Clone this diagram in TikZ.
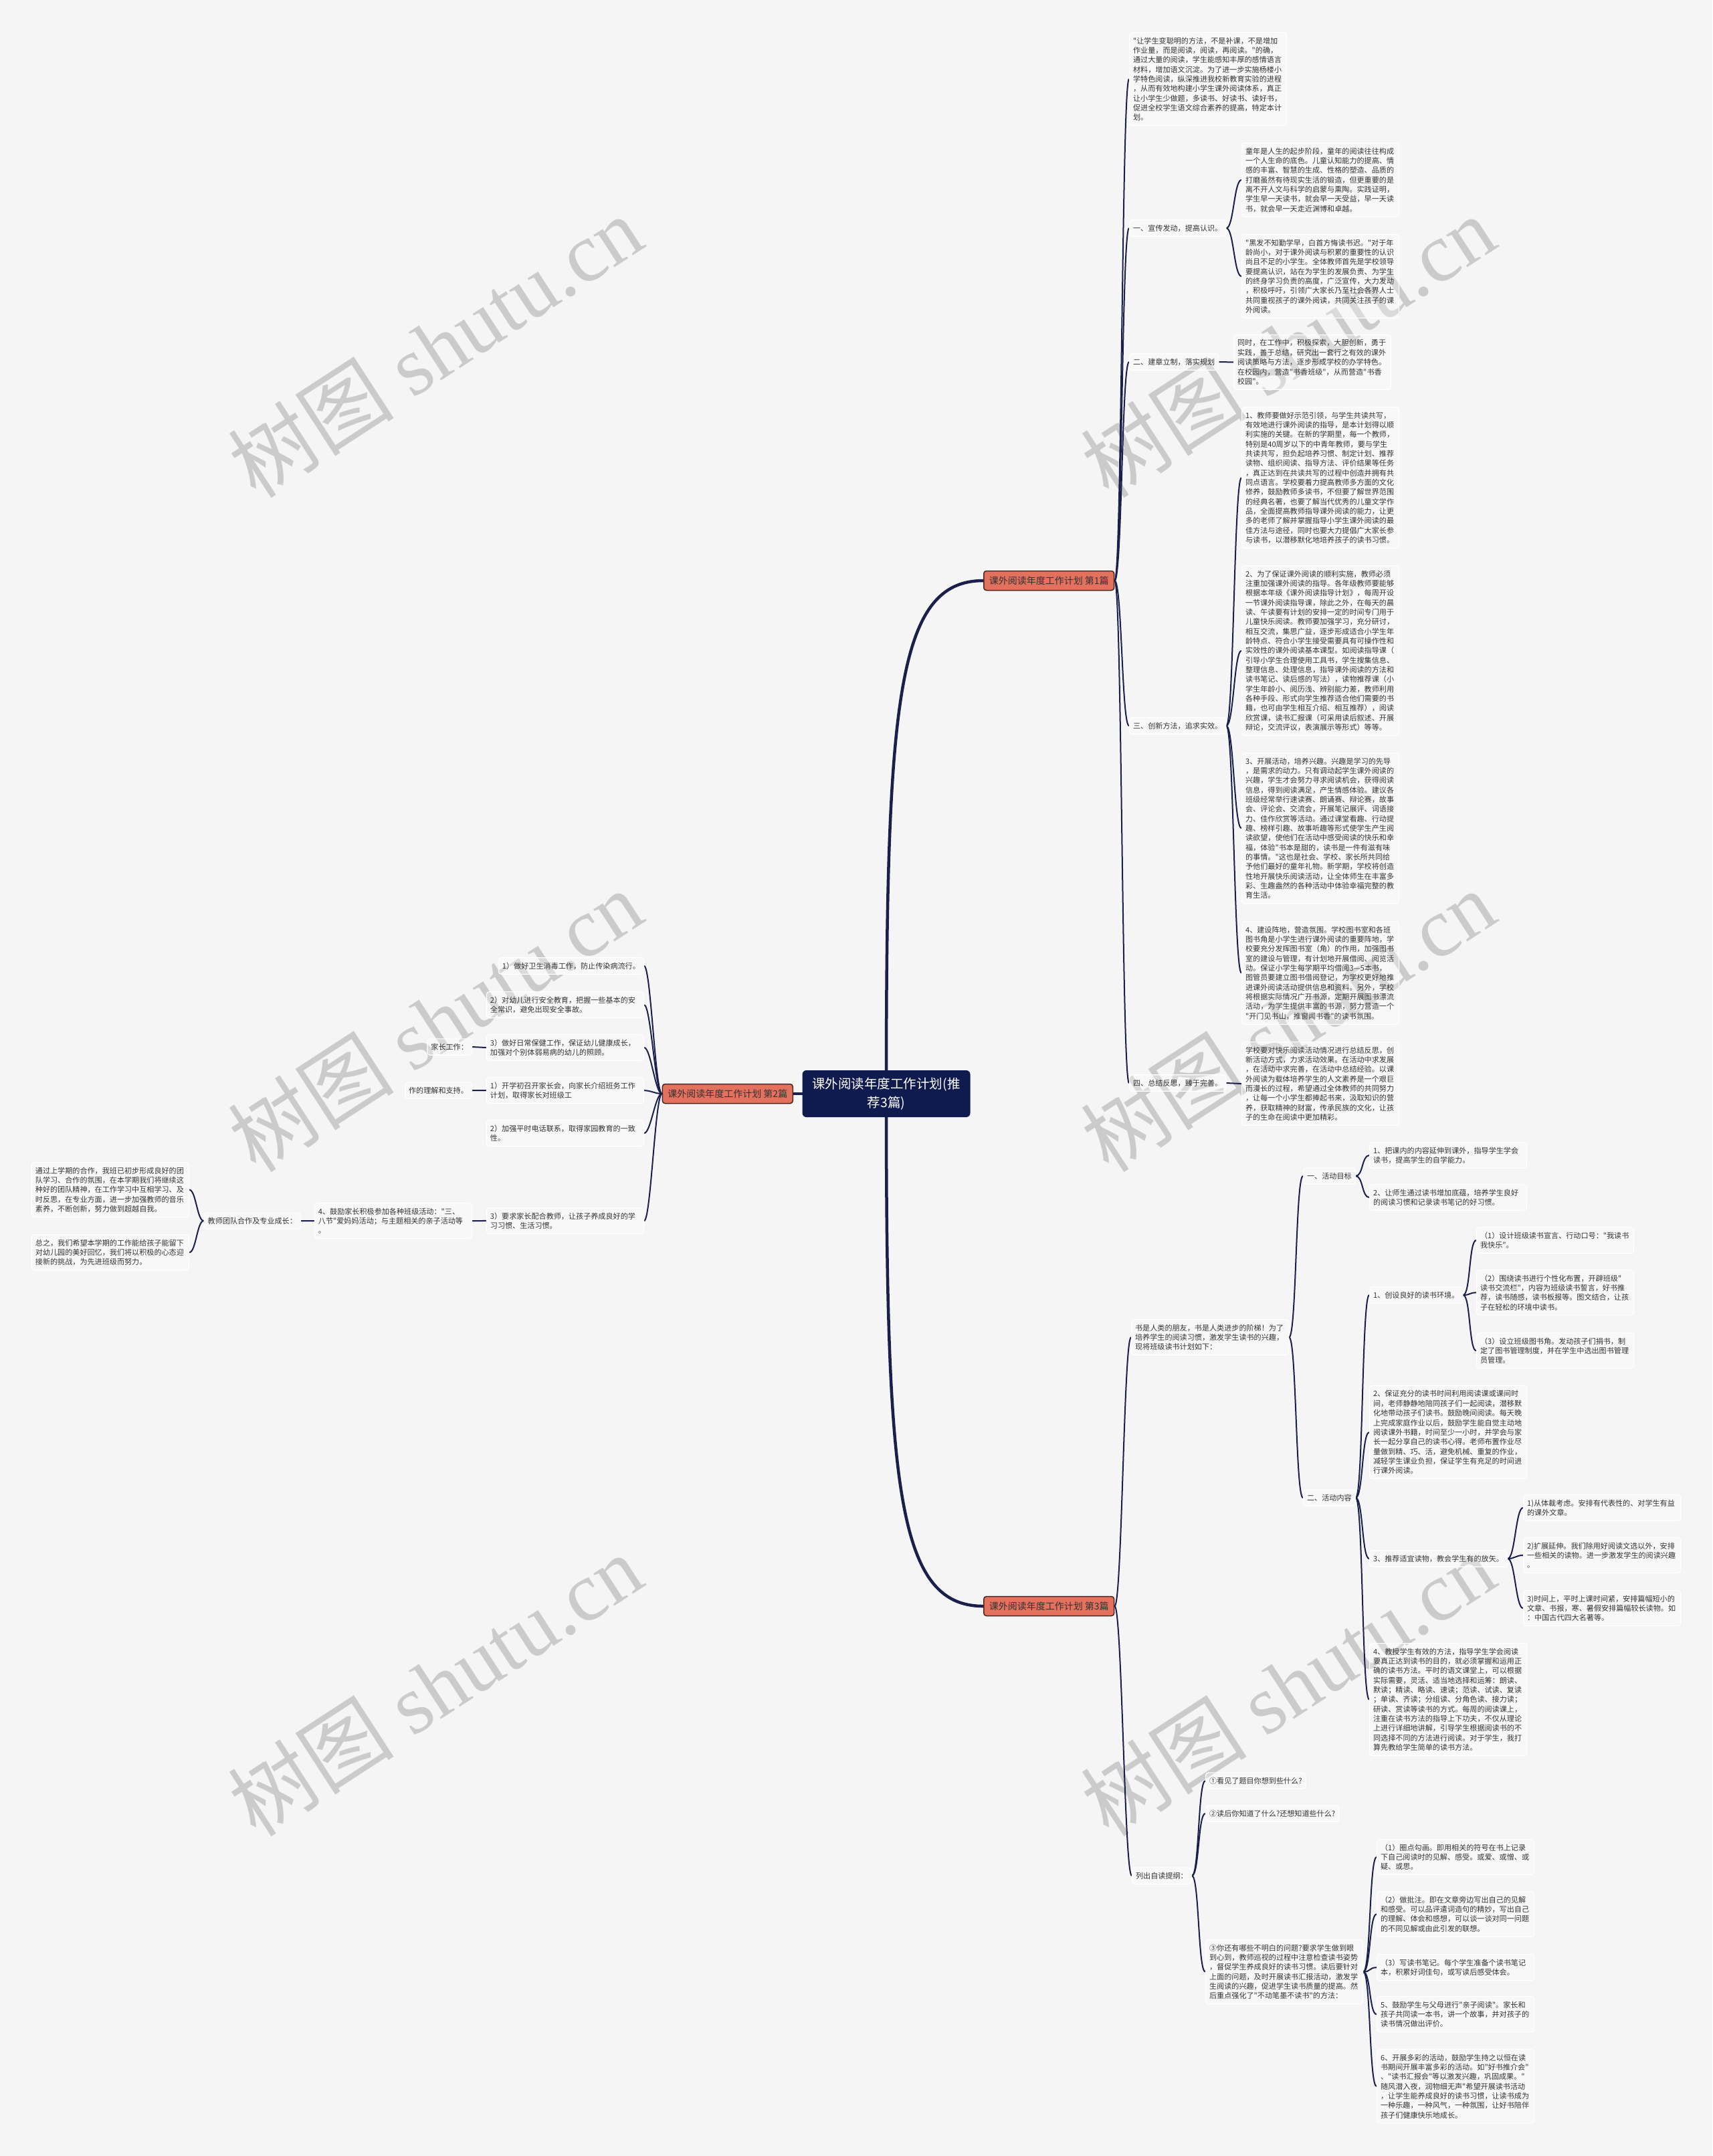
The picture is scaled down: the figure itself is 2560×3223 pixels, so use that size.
\documentclass[tikz,border=0pt]{standalone}
\usepackage{fontspec}
\setmainfont{Noto Sans CJK SC}
\newfontfamily\cjk{Noto Sans CJK SC}
\newfontfamily\wmserif{Liberation Serif}
\usetikzlibrary{calc}
\pgfdeclarelayer{bg}
\pgfsetlayers{bg,main}
\definecolor{bgc}{HTML}{F5F5F5}
\definecolor{txt}{HTML}{333333}
\definecolor{lnc}{HTML}{1B1F4B}
\definecolor{rootc}{HTML}{0F1A4E}
\definecolor{brc}{HTML}{E4705E}
\definecolor{brd}{HTML}{4A2520}
\definecolor{wmc}{HTML}{CBCBCB}
\tikzset{
 box/.style={draw=white, line width=1.2pt, fill=white, fill opacity=0.3, text opacity=1, rounded corners=4pt, text=txt, font=\cjk\fontsize{11.1}{14.35}\selectfont, inner xsep=5.5pt, inner ysep=7pt},
 para/.style={box, text width=224pt, align=left, anchor=north west},
 parar/.style={box, text width=224pt, align=left, anchor=north east},
 lab/.style={box, anchor=west},
 labr/.style={box, anchor=east},
 conn/.style={draw=lnc, line width=2pt},
 trunk/.style={draw=lnc, line width=4.5pt},
 branch/.style={draw=brd, line width=1.5pt, fill=brc, rounded corners=4pt, text=txt, font=\cjk\fontsize{14}{16}\selectfont, inner xsep=8pt, inner ysep=8pt},
 rootn/.style={fill=rootc, rounded corners=6pt, text=white, font=\cjk\fontsize{19.5}{28}\selectfont, align=center, minimum width=251pt, minimum height=70pt},
 wm/.style={text=wmc, rotate=33, font=\cjk\fontsize{125}{125}\selectfont},
}
\newcommand\conR[2]{\draw[conn] (#1.east) .. controls +(11pt,0) and +(-11pt,0) .. (#2.west);}
\newcommand\conL[2]{\draw[conn] (#1.west) .. controls +(-10pt,0) and +(10pt,0) .. (#2.east);}
\begin{document}
\begin{tikzpicture}[x=1pt,y=-1pt]
\useasboundingbox (0,0) rectangle (2560,3223);

% ---------- root and branches ----------
\node[rootn] (root) at (1325,1635) {课外阅读年度工作计划(推\\荐3篇)};
\node[branch, anchor=west] (br1) at (1470,868) {课外阅读年度工作计划 第1篇};
\node[branch, anchor=east] (br2) at (1186,1635) {课外阅读年度工作计划 第2篇};
\node[branch, anchor=west] (br3) at (1470,2401) {课外阅读年度工作计划 第3篇};

% ---------- branch 1 ----------
\node[para] (intro) at (1688,48) {"让学生变聪明的方法，不是补课，不是增加\\作业量，而是阅读，阅读，再阅读。"的确，\\通过大量的阅读，学生能感知丰厚的感情语言\\材料，增加语文沉淀。为了进一步实施杨楼小\\学特色阅读，纵深推进我校新教育实验的进程\\，从而有效地构建小学生课外阅读体系，真正\\让小学生少做题，多读书、好读书、读好书，\\促进全校学生语文综合素养的提高，特定本计\\划。};
\node[lab] (s1a) at (1688,341) {一、宣传发动，提高认识。};
\node[para] (tongnian) at (1856,213) {童年是人生的起步阶段，童年的阅读往往构成\\一个人生命的底色。儿童认知能力的提高、情\\感的丰富、智慧的生成、性格的塑造、品质的\\打磨虽然有待现实生活的锻造，但更重要的是\\离不开人文与科学的启蒙与熏陶。实践证明，\\学生早一天读书，就会早一天受益，早一天读\\书，就会早一天走近渊博和卓越。};
\node[para] (heifa) at (1856,350) {"黑发不知勤学早，白首方悔读书迟。"对于年\\龄尚小，对于课外阅读与积累的重要性的认识\\尚且不足的小学生。全体教师首先是学校领导\\要提高认识，站在为学生的发展负责、为学生\\的终身学习负责的高度，广泛宣传，大力发动\\，积极呼吁，引领广大家长乃至社会各界人士\\共同重视孩子的课外阅读，共同关注孩子的课\\外阅读。};
\node[lab] (s1b) at (1688,541) {二、建章立制，落实规划};
\node[para] (tongshi) at (1844,500) {同时，在工作中，积极探索，大胆创新，勇于\\实践，善于总结，研究出一套行之有效的课外\\阅读策略与方法，逐步形成学校的办学特色。\\在校园内，营造"书香班级"，从而营造"书香\\校园"。};
\node[lab] (s1c) at (1688,1085) {三、创新方法，追求实效。};
\node[para] (jiaoshi) at (1856,608) {1、教师要做好示范引领，与学生共读共写，\\有效地进行课外阅读的指导，是本计划得以顺\\利实施的关键。在新的学期里，每一个教师，\\特别是40周岁以下的中青年教师，要与学生\\共读共写，担负起培养习惯、制定计划、推荐\\读物、组织阅读、指导方法、评价结果等任务\\，真正达到在共读共写的过程中创造并拥有共\\同点语言。学校要着力提高教师多方面的文化\\修养，鼓励教师多读书，不但要了解世界范围\\的经典名著，也要了解当代优秀的儿童文学作\\品，全面提高教师指导课外阅读的能力，让更\\多的老师了解并掌握指导小学生课外阅读的最\\佳方法与途径，同时也要大力提倡广大家长参\\与读书，以潜移默化地培养孩子的读书习惯。};
\node[para] (weile) at (1856,845) {2、为了保证课外阅读的顺利实施，教师必须\\注重加强课外阅读的指导。各年级教师要能够\\根据本年级《课外阅读指导计划》，每周开设\\一节课外阅读指导课，除此之外，在每天的晨\\读、午读要有计划的安排一定的时间专门用于\\儿童快乐阅读。教师要加强学习，充分研讨，\\相互交流，集思广益，逐步形成适合小学生年\\龄特点、符合小学生接受需要具有可操作性和\\实效性的课外阅读基本课型。如阅读指导课（\\引导小学生合理使用工具书，学生搜集信息、\\整理信息、处理信息，指导课外阅读的方法和\\读书笔记、读后感的写法），读物推荐课（小\\学生年龄小、阅历浅、辨别能力差，教师利用\\各种手段、形式向学生推荐适合他们需要的书\\籍，也可由学生相互介绍、相互推荐），阅读\\欣赏课，读书汇报课（可采用读后叙述、开展\\辩论，交流评议，表演展示等形式）等等。};
\node[para] (kaizhan) at (1856,1125) {3、开展活动，培养兴趣。兴趣是学习的先导\\，是需求的动力。只有调动起学生课外阅读的\\兴趣，学生才会努力寻求阅读机会，获得阅读\\信息，得到阅读满足，产生情感体验。建议各\\班级经常举行速读赛、朗诵赛、辩论赛，故事\\会、评论会、交流会，开展笔记展评、词语接\\力、佳作欣赏等活动。通过课堂看趣、行动提\\趣、榜样引趣、故事听趣等形式使学生产生阅\\读欲望，使他们在活动中感受阅读的快乐和幸\\福，体验"书本是甜的，读书是一件有滋有味\\的事情。"这也是社会、学校、家长所共同给\\予他们最好的童年礼物。新学期，学校将创造\\性地开展快乐阅读活动，让全体师生在丰富多\\彩、生趣盎然的各种活动中体验幸福完整的教\\育生活。};
\node[para] (jianshe) at (1856,1377) {4、建设阵地，营造氛围。学校图书室和各班\\图书角是小学生进行课外阅读的重要阵地，学\\校要充分发挥图书室（角）的作用，加强图书\\室的建设与管理，有计划地开展借阅、阅览活\\动。保证小学生每学期平均借阅3—5本书，\\图管员要建立图书借阅登记，为学校更好地推\\进课外阅读活动提供信息和资料。另外，学校\\将根据实际情况广开书源，定期开展图书漂流\\活动，为学生提供丰富的书源，努力营造一个\\"开门见书山，推窗闻书香"的读书氛围。};
\node[lab] (s1d) at (1688,1619) {四、总结反思，臻于完善。};
\node[para] (xuexiao) at (1856,1557) {学校要对快乐阅读活动情况进行总结反思，创\\新活动方式，力求活动效果。在活动中求发展\\，在活动中求完善，在活动中总结经验。以课\\外阅读为载体培养学生的人文素养是一个艰巨\\而漫长的过程，希望通过全体教师的共同努力\\，让每一个小学生都捧起书来，汲取知识的营\\养，获取精神的财富，传承民族的文化，让孩\\子的生命在阅读中更加精彩。};

% ---------- branch 2 ----------
\node[labr] (L1) at (963,1444) {1）做好卫生消毒工作，防止传染病流行。};
\node[parar] (L2) at (963,1482) {2）对幼儿进行安全教育，把握一些基本的安\\全常识，避免出现安全事故。};
\node[parar] (L3) at (963,1546) {3）做好日常保健工作，保证幼儿健康成长，\\加强对个别体弱易病的幼儿的照顾。};
\node[labr] (jiazhang) at (706,1565) {家长工作：};
\node[parar] (L4) at (963,1610) {1）开学初召开家长会，向家长介绍班务工作\\计划，取得家长对班级工};
\node[labr] (lijie) at (706,1630) {作的理解和支持。};
\node[parar] (L5) at (963,1674) {2）加强平时电话联系，取得家园教育的一致\\性。};
\node[parar] (L6) at (963,1805) {3）要求家长配合教师，让孩子养成良好的学\\习习惯、生活习惯。};
\node[parar] (guli) at (706,1798) {4、鼓励家长积极参加各种班级活动："三、\\八节"爱妈妈活动；与主题相关的亲子活动等\\。};
\node[labr] (tuandui) at (450,1825) {教师团队合作及专业成长：};
\node[parar] (tongguo) at (283,1737) {通过上学期的合作，我班已初步形成良好的团\\队学习、合作的氛围，在本学期我们将继续这\\种好的团队精神，在工作学习中互相学习、及\\时反思，在专业方面，进一步加强教师的音乐\\素养，不断创新，努力做到超越自我。};
\node[parar] (zongzhi) at (283,1845) {总之，我们希望本学期的工作能给孩子能留下\\对幼儿园的美好回忆，我们将以积极的心态迎\\接新的挑战，为先进班级而努力。};

% ---------- branch 3 ----------
\node[para] (shushi) at (1691,1972) {书是人类的朋友，书是人类进步的阶梯！为了\\培养学生的阅读习惯，激发学生读书的兴趣，\\现将班级读书计划如下：};
\node[lab] (mubiao) at (1948,1758) {一、活动目标};
\node[para] (mb1) at (2047,1707) {1、把课内的内容延伸到课外，指导学生学会\\读书，提高学生的自学能力。};
\node[para] (mb2) at (2047,1770) {2、让师生通过读书增加底蕴，培养学生良好\\的阅读习惯和记录读书笔记的好习惯。};
\node[lab] (neirong) at (1948,2239) {二、活动内容};
\node[lab] (nr1) at (2047,1936) {1、创设良好的读书环境。};
\node[para] (h1) at (2207,1834) {（1）设计班级读书宣言、行动口号："我读书\\我快乐"。};
\node[para] (h2) at (2207,1898) {（2）围绕读书进行个性化布置，开辟班级"\\读书交流栏"，内容为班级读书誓言，好书推\\荐，读书随感，读书板报等。图文结合，让孩\\子在轻松的环境中读书。};
\node[para] (h3) at (2207,1992) {（3）设立班级图书角。发动孩子们捐书，制\\定了图书管理制度，并在学生中选出图书管理\\员管理。};
\node[para] (nr2) at (2047,2071) {2、保证充分的读书时间利用阅读课或课间时\\间，老师静静地陪同孩子们一起阅读，潜移默\\化地带动孩子们读书。鼓励晚间阅读。每天晚\\上完成家庭作业以后，鼓励学生能自觉主动地\\阅读课外书籍，时间至少一小时，并学会与家\\长一起分享自己的读书心得。老师布置作业尽\\量做到精、巧、活，避免机械、重复的作业，\\减轻学生课业负担，保证学生有充足的时间进\\行课外阅读。};
\node[lab] (nr3) at (2047,2330) {3、推荐适宜读物，教会学生有的放矢。};
\node[para] (t1) at (2277,2234) {1)从体裁考虑。安排有代表性的、对学生有益\\的课外文章。};
\node[para] (t2) at (2277,2298) {2)扩展延伸。我们除用好阅读文选以外，安排\\一些相关的读物。进一步激发学生的阅读兴趣\\。};
\node[para] (t3) at (2277,2377) {3)时间上，平时上课时间紧，安排篇幅短小的\\文章、书报，寒、暑假安排篇幅较长读物。如\\：中国古代四大名著等。};
\node[para] (nr4) at (2047,2456) {4、教授学生有效的方法，指导学生学会阅读\\要真正达到读书的目的，就必须掌握和运用正\\确的读书方法。平时的语文课堂上，可以根据\\实际需要，灵活、适当地选择和运筹：朗读、\\默读；精读、略读、速读；范读、试读、复读\\；单读、齐读；分组读、分角色读、接力读；\\研读、赏读等读书的方式。每周的阅读课上，\\注重在读书方法的指导上下功夫，不仅从理论\\上进行详细地讲解，引导学生根据阅读书的不\\同选择不同的方法进行阅读。对于学生，我打\\算先教给学生简单的读书方法。};
\node[lab] (liechu) at (1692,2804) {列出自读提纲：};
\node[lab] (q1) at (1802,2662) {①看见了题目你想到些什么?};
\node[lab] (q2) at (1802,2711) {②读后你知道了什么?还想知道些什么?};
\node[para] (q3) at (1802,2899) {③你还有哪些不明白的问题?要求学生做到眼\\到心到，教师巡视的过程中注意检查读书姿势\\，督促学生养成良好的读书习惯。读后要针对\\上面的问题，及时开展读书汇报活动，激发学\\生阅读的兴趣，促进学生读书质量的提高。然\\后重点强化了"不动笔墨不读书"的方法：};
\node[para] (c1) at (2058,2749) {（1）圈点勾画。即用相关的符号在书上记录\\下自己阅读时的见解、感受。或爱、或憎、或\\疑、或思。};
\node[para] (c2) at (2058,2827) {（2）做批注。即在文章旁边写出自己的见解\\和感受。可以品评遣词造句的精妙，写出自己\\的理解、体会和感想，可以谈一谈对同一问题\\的不同见解或由此引发的联想。};
\node[para] (c3) at (2058,2921) {（3）写读书笔记。每个学生准备个读书笔记\\本，积累好词佳句，或写读后感受体会。};
\node[para] (c5) at (2058,2984) {5、鼓励学生与父母进行"亲子阅读"。家长和\\孩子共同读一本书，讲一个故事，并对孩子的\\读书情况做出评价。};
\node[para] (c6) at (2058,3063) {6、开展多彩的活动，鼓励学生持之以恒在读\\书期间开展丰富多彩的活动。如"好书推介会"\\、"读书汇报会"等以激发兴趣，巩固成果。"\\随风潜入夜，润物细无声"希望开展读书活动\\，让学生能养成良好的读书习惯，让读书成为\\一种乐趣，一种风气，一种氛围，让好书陪伴\\孩子们健康快乐地成长。};

\begin{pgfonlayer}{bg}
\fill[bgc] (0,0) rectangle (2560,3223);
\foreach \wx/\wy in {650/518,1925/518,650/1526,1925/1526,650/2519,1925/2519}
  \node[wm] at (\wx,\wy) {树图 {\wmserif shutu.cn}};
% trunks
\draw[trunk] (root.center) .. controls (1325,1050) and (1340,868) .. (br1.west);
\draw[trunk] (root.center) .. controls (1325,2220) and (1340,2401) .. (br3.west);
\draw[trunk] (root.center) -- (br2.east);
% branch 1
\conR{br1}{intro}\conR{br1}{s1a}\conR{br1}{s1b}\conR{br1}{s1c}\conR{br1}{s1d}
\conR{s1a}{tongnian}\conR{s1a}{heifa}
\conR{s1b}{tongshi}
\conR{s1c}{jiaoshi}\conR{s1c}{weile}\conR{s1c}{kaizhan}\conR{s1c}{jianshe}
\conR{s1d}{xuexiao}
% branch 2
\conL{br2}{L1}\conL{br2}{L2}\conL{br2}{L3}\conL{br2}{L4}\conL{br2}{L5}\conL{br2}{L6}
\conL{L3}{jiazhang}\conL{L4}{lijie}\conL{L6}{guli}\conL{guli}{tuandui}
\conL{tuandui}{tongguo}\conL{tuandui}{zongzhi}
% branch 3
\conR{br3}{shushi}\conR{br3}{liechu}
\conR{shushi}{mubiao}\conR{shushi}{neirong}
\conR{mubiao}{mb1}\conR{mubiao}{mb2}
\conR{neirong}{nr1}\conR{neirong}{nr2}\conR{neirong}{nr3}\conR{neirong}{nr4}
\conR{nr1}{h1}\conR{nr1}{h2}\conR{nr1}{h3}
\conR{nr3}{t1}\conR{nr3}{t2}\conR{nr3}{t3}
\conR{liechu}{q1}\conR{liechu}{q2}\conR{liechu}{q3}
\conR{q3}{c1}\conR{q3}{c2}\conR{q3}{c3}\conR{q3}{c5}\conR{q3}{c6}
\end{pgfonlayer}
\end{tikzpicture}
\end{document}
